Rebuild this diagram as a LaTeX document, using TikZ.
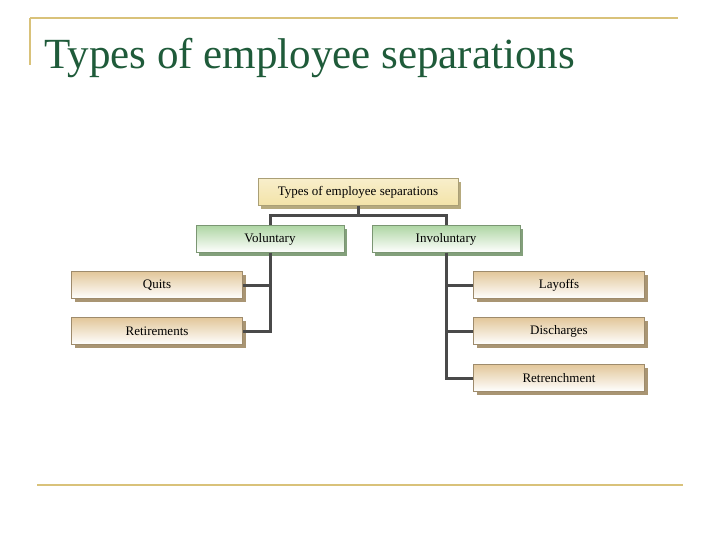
\documentclass[tikz,border=0pt]{standalone}
\usepackage{fontspec}
\setmainfont{Liberation Serif}
\usetikzlibrary{shadows}
\definecolor{gold}{HTML}{D9C27A}
\definecolor{ttl}{HTML}{1F5B3A}
\definecolor{tanc}{HTML}{E2C79A}
\definecolor{grn}{HTML}{AFD6A4}
\definecolor{yel}{HTML}{F3E3A8}
\definecolor{con}{HTML}{4A4A4A}
\tikzset{
 box/.style={draw=#1!70!black, line width=0.4pt, minimum height=27pt, inner sep=0pt, font=\fontsize{13}{15}\selectfont,
   top color=#1, bottom color=white, general shadow={fill=#1!75!black, shadow xshift=3pt, shadow yshift=-3pt}},
 conn/.style={draw=con, line width=3pt}
}
\begin{document}
\begin{tikzpicture}[x=1pt,y=-1pt]
\useasboundingbox (0,0) rectangle (720,539);
\fill[white] (0,0) rectangle (720,539);
\draw[gold, line width=1.2pt] (30,18) -- (678,18);
\draw[gold, line width=1.2pt] (30,18) -- (30,65);
\draw[gold, line width=1.2pt] (37,485) -- (683,485);
\node[anchor=base west, text=ttl, font=\fontsize{43}{47}\selectfont, inner sep=0pt] (title) at (44,68) {Types of employee separations};
\node[box=yel, minimum width=200pt, top color=yel!60, bottom color=yel] (root) at (358,192) {Types of employee separations};
\node[box=grn, minimum width=148pt] (vol) at (270,239) {Voluntary};
\node[box=grn, minimum width=148pt] (inv) at (446,239) {Involuntary};
\node[box=tanc, minimum width=171pt] (q) at (157,285) {Quits};
\node[box=tanc, minimum width=171pt] (r) at (157,331) {Retirements};
\node[box=tanc, minimum width=171pt] (l) at (559,285) {Layoffs};
\node[box=tanc, minimum width=171pt] (d) at (559,331) {Discharges};
\node[box=tanc, minimum width=171pt] (t) at (559,378) {Retrenchment};
\coordinate (j) at (358,215);
\draw[conn] (root.south) -- (j);
\draw[conn] (vol.north) |- (j) -| (inv.north);
\draw[conn] (vol.south) |- (q.east);
\draw[conn] (vol.south) |- (r.east);
\draw[conn] (inv.south) |- (l.west);
\draw[conn] (inv.south) |- (d.west);
\draw[conn] (inv.south) |- (t.west);
\end{tikzpicture}
\end{document}
